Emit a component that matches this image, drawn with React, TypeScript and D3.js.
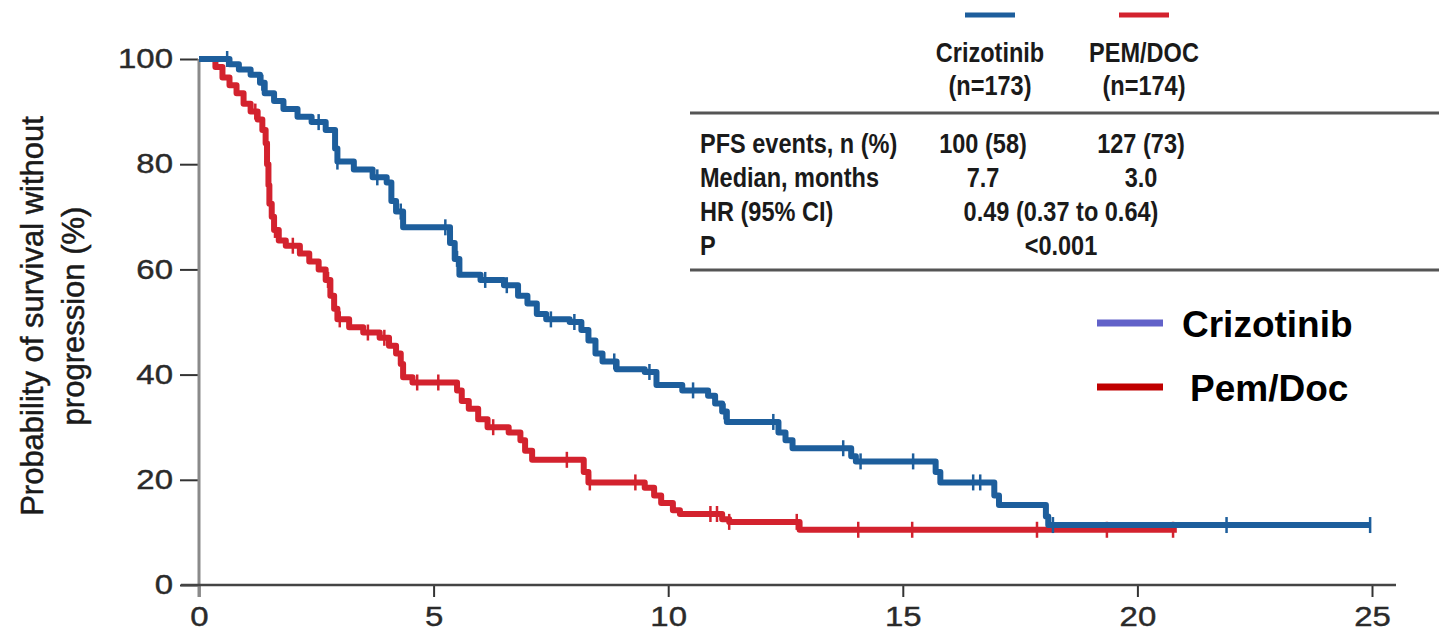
import { useEffect, useRef } from "react";
import * as d3 from "d3";

// Kaplan-Meier steps: [month, % progression-free after that month]
const crizoSteps: [number, number][] = [
  [0, 100], [0.65, 99], [0.85, 98], [1.1, 97], [1.3, 95.5], [1.4, 93.5], [1.6, 92],
  [1.8, 90.5], [2.1, 89], [2.4, 88], [2.7, 86.5], [2.9, 83], [2.95, 80.5], [3.3, 79],
  [3.7, 77.5], [4.0, 76.5], [4.1, 73], [4.2, 71], [4.35, 68], [5.35, 65], [5.45, 62],
  [5.55, 59], [6.0, 58], [6.5, 57], [6.8, 55], [7.0, 53.5], [7.2, 51.5], [7.4, 50.5],
  [7.9, 50], [8.15, 48.5], [8.3, 46.5], [8.45, 44], [8.6, 42.5], [8.9, 41], [9.5, 40.5],
  [9.75, 38], [10.3, 37], [10.85, 36], [11.0, 34.5], [11.15, 33], [11.25, 31],
  [12.35, 29], [12.5, 27.5], [12.65, 26], [13.9, 24.5], [14.0, 23.5], [15.7, 21.5],
  [15.8, 19.5], [16.95, 17], [17.05, 15.2], [18.05, 13], [18.1, 11.4],
];
const crizoEnd = 24.96;
const crizoCensored = [
  0.6, 1.35, 2.55, 2.95, 3.8, 4.3, 5.25, 5.5, 6.1, 6.56, 7.5, 8.0, 8.85, 9.6, 10.53,
  11.2, 12.24, 13.73, 14.1, 15.22, 16.5, 16.65, 18.2, 21.9, 24.96,
];

const pemSteps: [number, number][] = [
  [0, 100], [0.35, 98.5], [0.5, 96.5], [0.65, 95], [0.8, 93.5], [0.95, 91.5], [1.1, 90],
  [1.25, 88.5], [1.35, 86.5], [1.42, 84], [1.45, 80], [1.48, 76], [1.5, 72.5], [1.55, 70],
  [1.6, 67.5], [1.7, 65.5], [1.85, 64.5], [2.15, 63], [2.35, 61.5], [2.55, 60], [2.7, 58],
  [2.8, 55], [2.88, 52.5], [2.95, 50.5], [3.2, 49], [3.5, 48], [3.85, 47], [4.05, 45.5],
  [4.2, 44], [4.3, 42], [4.35, 39.5], [4.55, 38.5], [5.5, 37], [5.6, 35], [5.75, 33.5],
  [5.95, 31.5], [6.15, 30], [6.6, 29], [6.85, 27.5], [6.95, 25.5], [7.1, 23.8], [8.2, 21.5],
  [8.3, 19.5], [9.5, 18.5], [9.7, 17], [9.85, 15.6], [10.1, 14.2], [10.25, 13.5],
  [11.15, 12.5], [11.3, 12], [12.8, 10.5],
];
const pemEnd = 20.84;
const pemCensored = [
  1.2, 1.42, 1.46, 1.52, 1.62, 2.0, 2.75, 3.0, 3.6, 3.95, 4.65, 5.1, 6.27, 7.84, 8.33,
  9.3, 10.9, 11.04, 11.3, 12.74, 14.05, 15.2, 17.86, 19.35, 20.76,
];

const xTicks = [0, 5, 10, 15, 20, 25];
const yTicks = [0, 20, 40, 60, 80, 100];
const yLabelLines = ["Probability of survival without", "progression (%)"];

const armNames = ["Crizotinib", "PEM/DOC"];
const armCounts = ["(n=173)", "(n=174)"];
const rowLabels = ["PFS events, n (%)", "Median, months", "HR (95% CI)", "P"];
const crizoValues = ["100 (58)", "7.7"];
const pemValues = ["127 (73)", "3.0"];
const sharedValues = ["0.49 (0.37 to 0.64)", "<0.001"];
const legendNames = ["Crizotinib", "Pem/Doc"];

const BLUE = "#1d5e9c";
const RED = "#d3222e";
const FONT = "Liberation Sans, Arial, sans-serif";

// stretch/condense text horizontally to match the picture
function stretch(sel: d3.Selection<any, any, any, any>, k: number) {
  sel.each(function (this: any) {
    const w = this.getComputedTextLength();
    d3.select(this).attr("textLength", w * k).attr("lengthAdjust", "spacingAndGlyphs");
  });
}

const App = () => {
  const svgRef = useRef<SVGSVGElement>(null);
  const width = 1439;
  const height = 631;

  useEffect(() => {
    document.body.style.margin = "0";
    const svg = d3.select(svgRef.current);
    svg.selectAll("*").remove();

    const x = d3.scaleLinear().domain([0, 25]).range([199, 1372]);
    const y = d3.scaleLinear().domain([0, 100]).range([585, 59]);

    // axes
    const yAxis = svg.append("g")
      .attr("transform", `translate(${x(0) - 1},0)`)
      .call(d3.axisLeft(y).tickValues(yTicks).tickSize(18).tickSizeOuter(0).tickPadding(7));
    yAxis.select(".domain").remove();
    yAxis.selectAll(".tick line").attr("stroke", "#333").attr("stroke-width", 2);
    yAxis.selectAll(".tick text")
      .attr("font-family", FONT)
      .attr("font-size", 27)
      .attr("fill", "#2a2a2a")
      .attr("stroke", "#2a2a2a")
      .attr("stroke-width", 0.4);
    stretch(yAxis.selectAll(".tick text"), 1.22);

    const xAxis = svg.append("g")
      .attr("transform", `translate(0,${y(0)})`)
      .call(d3.axisBottom(x).tickValues(xTicks).tickSize(12).tickSizeOuter(0).tickPadding(10));
    xAxis.select(".domain").remove();
    xAxis.selectAll(".tick line").attr("stroke", "#333").attr("stroke-width", 2);
    xAxis.selectAll(".tick text")
      .attr("font-family", FONT)
      .attr("font-size", 27)
      .attr("fill", "#2a2a2a")
      .attr("stroke", "#2a2a2a")
      .attr("stroke-width", 0.4);
    stretch(xAxis.selectAll(".tick text"), 1.22);

    svg.append("line")
      .attr("x1", x(0)).attr("x2", x(0))
      .attr("y1", y(100)).attr("y2", y(0) + 12)
      .attr("stroke", "#8a8a8a").attr("stroke-width", 3);
    svg.append("line")
      .attr("x1", x(0) - 18).attr("x2", x(25) + 24)
      .attr("y1", y(0)).attr("y2", y(0))
      .attr("stroke", "#444").attr("stroke-width", 2.5);

    // y label
    const yl = svg.append("g").attr("transform", `translate(0,316) rotate(-90)`);
    yLabelLines.forEach((t, i) => {
      yl.append("text")
        .attr("x", 0).attr("y", 43 + i * 41)
        .attr("text-anchor", "middle")
        .attr("font-family", FONT)
        .attr("font-size", 31)
        .attr("fill", "#1a1a1a")
        .attr("stroke", "#1a1a1a")
        .attr("stroke-width", 0.5)
        .text(t);
    });

    // curves
    const stepAt = (steps: [number, number][], t: number) => {
      let v = steps[0][1];
      for (const s of steps) if (s[0] <= t) v = s[1];
      return v;
    };
    const line = d3.line<[number, number]>()
      .x(d => x(d[0])).y(d => y(d[1]))
      .curve(d3.curveStepAfter);

    const drawArm = (steps: [number, number][], end: number, cens: number[], color: string) => {
      const pts: [number, number][] = [...steps, [end, steps[steps.length - 1][1]]];
      svg.append("path")
        .attr("d", line(pts))
        .attr("fill", "none")
        .attr("stroke", color)
        .attr("stroke-width", 6)
        .attr("stroke-linejoin", "round");
      svg.append("g").selectAll("line")
        .data(cens)
        .join("line")
        .attr("x1", d => x(d)).attr("x2", d => x(d))
        .attr("y1", d => y(stepAt(steps, d)) - 8)
        .attr("y2", d => y(stepAt(steps, d)) + 8)
        .attr("stroke", color)
        .attr("stroke-width", 2.5);
    };
    drawArm(pemSteps, pemEnd, pemCensored, RED);
    drawArm(crizoSteps, crizoEnd, crizoCensored, BLUE);

    // table
    const tf = (sel: d3.Selection<SVGTextElement, any, any, any>) =>
      sel.attr("font-family", FONT)
        .attr("font-size", 28)
        .attr("font-weight", 700)
        .attr("fill", "#1a1a1a");
    const tbl = svg.append("g");
    const colX = [990, 1144];
    const armColors = [BLUE, RED];
    colX.forEach((cx, i) => {
      tbl.append("line")
        .attr("x1", cx - 25).attr("x2", cx + 25)
        .attr("y1", 15).attr("y2", 15)
        .attr("stroke", armColors[i]).attr("stroke-width", 5);
      tbl.append("text").attr("x", cx).attr("y", 62).attr("text-anchor", "middle")
        .call(tf).text(armNames[i]);
      tbl.append("text").attr("x", cx).attr("y", 95).attr("text-anchor", "middle")
        .call(tf).text(armCounts[i]);
    });
    [113, 270].forEach(ry => {
      tbl.append("line")
        .attr("x1", 690).attr("x2", width)
        .attr("y1", ry).attr("y2", ry)
        .attr("stroke", "#555").attr("stroke-width", 3);
    });
    const rowY = [153, 187, 221, 255];
    rowLabels.forEach((t, i) => {
      tbl.append("text").attr("x", 700).attr("y", rowY[i]).call(tf).text(t);
    });
    crizoValues.forEach((t, i) => {
      tbl.append("text").attr("x", 983).attr("y", rowY[i]).attr("text-anchor", "middle").call(tf).text(t);
    });
    pemValues.forEach((t, i) => {
      tbl.append("text").attr("x", 1141).attr("y", rowY[i]).attr("text-anchor", "middle").call(tf).text(t);
    });
    sharedValues.forEach((t, i) => {
      tbl.append("text").attr("x", 1061).attr("y", rowY[i + 2]).attr("text-anchor", "middle").call(tf).text(t);
    });
    stretch(tbl.selectAll("text"), 0.84);

    // legend
    const legColors = ["#6262c9", "#c00000"];
    const legY = [323, 387];
    const legTextX = [1182, 1190];
    legendNames.forEach((t, i) => {
      svg.append("line")
        .attr("x1", 1097).attr("x2", 1163)
        .attr("y1", legY[i]).attr("y2", legY[i])
        .attr("stroke", legColors[i]).attr("stroke-width", 7);
      svg.append("text")
        .attr("x", legTextX[i]).attr("y", legY[i] + 14)
        .attr("font-family", FONT)
        .attr("font-size", 37)
        .attr("font-weight", 700)
        .attr("fill", "#000")
        .text(t);
    });
  }, []);

  return <svg ref={svgRef} width={width} height={height} style={{ display: "block", background: "#fff" }}></svg>;
};

export default App;
